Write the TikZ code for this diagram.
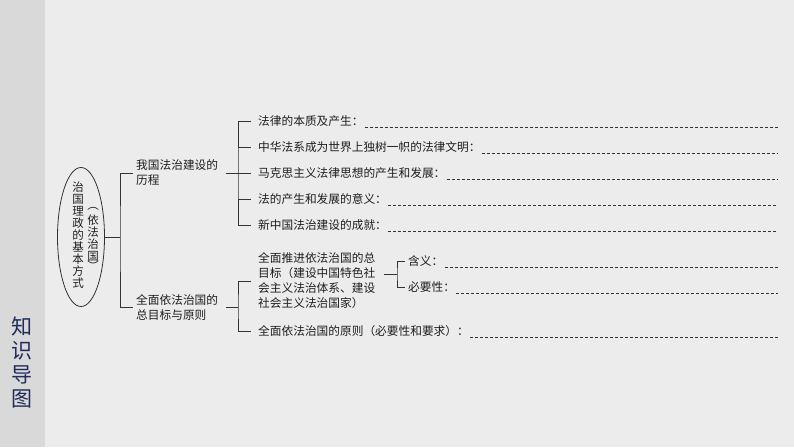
\documentclass[tikz,border=0pt]{standalone}
\usepackage{fontspec}
\newfontfamily\cjk{Noto Sans CJK SC}
\usetikzlibrary{shapes.geometric,calc}
\definecolor{bgmain}{HTML}{ECECEC}
\definecolor{bgside}{HTML}{D9D9D9}
\definecolor{navy}{HTML}{1F2B5C}
\definecolor{ink}{HTML}{1E1E1E}
\definecolor{linec}{HTML}{333333}
\begin{document}
\begin{tikzpicture}[x=1pt,y=-1pt,
  txt/.style={anchor=west,inner sep=0pt,text=ink,font=\cjk\fontsize{11.7}{15}\selectfont,align=left},
  coltxt/.style={inner sep=0pt,text=ink,align=center,font=\cjk\fontsize{11.5}{12}\selectfont},
  conn/.style={draw=linec,line width=0.8pt},
  dashline/.style={draw=linec,line width=0.6pt,dash pattern=on 3pt off 2pt}]
\fill[bgmain] (0,0) rectangle (794,447);
\fill[bgside] (0,0) rectangle (45,447);
\useasboundingbox (0,0) rectangle (794,447);

\node[inner sep=0pt,text=navy,align=center,font=\cjk\fontsize{21}{23.7}\selectfont] (side) at (22,362.5) {知\\识\\导\\图};

\node[ellipse,draw=linec,line width=0.8pt,minimum width=47pt,minimum height=139pt,inner sep=0pt] (root) at (81,237) {};
\node[coltxt] (c1) at (78,235) {治\\国\\理\\政\\的\\基\\本\\方\\式};
\node[coltxt] (c2) at (93,238) {依\\法\\治\\国};
\node[coltxt] (p1) at (93,209) {︵};
\node[coltxt] (p2) at (93,266) {︶};

\node[txt] (n1) at (136,173) {我国法治建设的\\历程};
\node[txt] (n2) at (136,307) {全面依法治国的\\总目标与原则};
\node[txt] (i1) at (258,121) {法律的本质及产生：};
\node[txt] (i2) at (258,147) {中华法系成为世界上独树一帜的法律文明：};
\node[txt] (i3) at (258,173) {马克思主义法律思想的产生和发展：};
\node[txt] (i4) at (258,199) {法的产生和发展的意义：};
\node[txt] (i5) at (258,225) {新中国法治建设的成就：};
\node[txt] (g1) at (258,281) {全面推进依法治国的总\\目标（建设中国特色社\\会主义法治体系、建设\\社会主义法治国家）};
\node[txt] (s1) at (408,261) {含义：};
\node[txt] (s2) at (408,287) {必要性：};
\node[txt] (g2) at (258,331) {全面依法治国的原则（必要性和要求）：};

\coordinate (b1) at (120,237);
\draw[conn] (root.east) -- (b1);
\draw[conn] ([xshift=-3pt]n1.west) -| (b1) |- ([xshift=-3pt]n2.west);

\coordinate (b2) at (238,173);
\draw[conn] ([xshift=-7pt]i1.west) -| (b2) |- ([xshift=-7pt]i5.west);
\draw[conn] ([xshift=8pt]n1.east) -- ([xshift=-7pt]i3.west);
\draw[conn] (b2 |- i2.west) -- ([xshift=-7pt]i2.west);
\draw[conn] (b2 |- i4.west) -- ([xshift=-7pt]i4.west);

\coordinate (b3) at (238,307);
\draw[conn] ([xshift=-7pt]g1.west) -| (b3) |- ([xshift=-7pt]g2.west);
\draw[conn] ([xshift=8pt]n2.east) -- (b3);

\coordinate (b4) at (397,274);
\draw[conn] ([xshift=9pt]b4 -| g1.east) -- (b4);
\draw[conn] ([xshift=-3pt]s1.west) -| (b4) |- ([xshift=-3pt]s2.west);

\coordinate (R) at (778,0);
\foreach \n in {i1,i2,i3,i4,i5,s1,s2,g2}
  \draw[dashline] ([shift={(1pt,-1.5pt)}]\n.base east) -- ([yshift=-1.5pt]\n.base east -| R);
\end{tikzpicture}
\end{document}
